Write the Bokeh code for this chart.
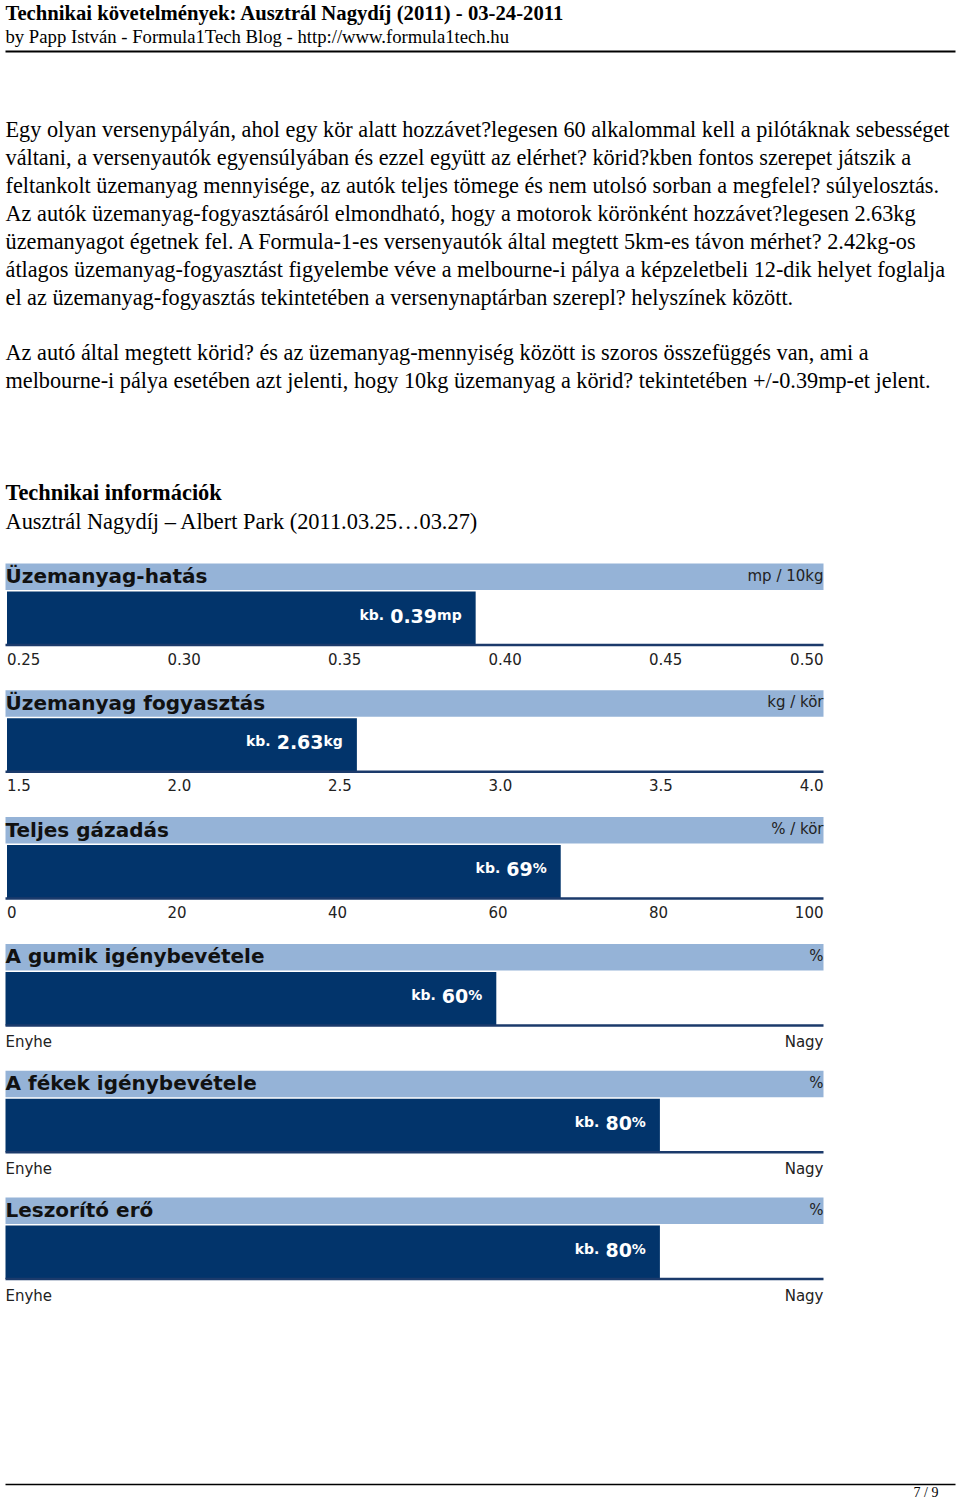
from bokeh.plotting import figure
from bokeh.models import Range1d
from bokeh.core.properties import value
from bokeh.embed import file_html
from bokeh.resources import INLINE

# ---------------- data ----------------
doc_title = "Technikai követelmények: Ausztrál Nagydíj (2011) - 03-24-2011"
doc_byline = "by Papp István - Formula1Tech Blog - http://www.formula1tech.hu"
para1 = [
    "Egy olyan versenypályán, ahol egy kör alatt hozzávet?legesen 60 alkalommal kell a pilótáknak sebességet",
    "váltani, a versenyautók egyensúlyában és ezzel együtt az elérhet? körid?kben fontos szerepet játszik a",
    "feltankolt üzemanyag mennyisége, az autók teljes tömege és nem utolsó sorban a megfelel? súlyelosztás.",
    "Az autók üzemanyag-fogyasztásáról elmondható, hogy a motorok körönként hozzávet?legesen 2.63kg",
    "üzemanyagot égetnek fel. A Formula-1-es versenyautók által megtett 5km-es távon mérhet? 2.42kg-os",
    "átlagos üzemanyag-fogyasztást figyelembe véve a melbourne-i pálya a képzeletbeli 12-dik helyet foglalja",
    "el az üzemanyag-fogyasztás tekintetében a versenynaptárban szerepl? helyszínek között.",
]
para2 = [
    "Az autó által megtett körid? és az üzemanyag-mennyiség között is szoros összefüggés van, ami a",
    "melbourne-i pálya esetében azt jelenti, hogy 10kg üzemanyag a körid? tekintetében +/-0.39mp-et jelent.",
]
section_title = "Technikai információk"
section_sub = "Ausztrál Nagydíj – Albert Park (2011.03.25…03.27)"
page_label = "7 / 9"

gauge_titles = ["Üzemanyag-hatás", "Üzemanyag fogyasztás", "Teljes gázadás",
                "A gumik igénybevétele", "A fékek igénybevétele", "Leszorító erő"]
gauge_units = ["mp / 10kg", "kg / kör", "% / kör", "%", "%", "%"]
gauge_bar_values = [0.396, 2.59, 69, 60, 80, 80]
# values printed in the bars
gauge_value_text = ["0.39", "2.63", "69", "60", "80", "80"]
gauge_value_suffix = ["mp", "kg", "%", "%", "%", "%"]
gauge_min = [0.25, 1.5, 0, 0, 0, 0]
gauge_max = [0.50, 4.0, 100, 100, 100, 100]
gauge_tick_values = [
    [0.25, 0.30, 0.35, 0.40, 0.45, 0.50],
    [1.5, 2.0, 2.5, 3.0, 3.5, 4.0],
    [0, 20, 40, 60, 80, 100],
    [0, 100], [0, 100], [0, 100],
]
gauge_tick_labels = [
    ["0.25", "0.30", "0.35", "0.40", "0.45", "0.50"],
    ["1.5", "2.0", "2.5", "3.0", "3.5", "4.0"],
    ["0", "20", "40", "60", "80", "100"],
    ["Enyhe", "Nagy"], ["Enyhe", "Nagy"], ["Enyhe", "Nagy"],
]

# ---------------- style / layout ----------------
W, H = 960, 1504
SERIF = value("Liberation Serif")
SANS = value("DejaVu Sans")
BAND = "#95b3d7"
DARK = "#02346b"
LINE = "#1b3a6b"
INK = "#111111"
LEFT, RIGHT = 5, 823          # gauge area, page px
TICK0, TICK_SPAN = 6.5, 802.5  # numeric scale: first tick px, px from min to max
G0, GSTEP = 563, 126.8         # top of first gauge band, gauge pitch

BOLD_W = {"0": .696, "1": .696, "2": .696, "3": .696, "4": .696, "5": .696,
          "6": .696, "7": .696, "8": .696, "9": .696, ".": .381, "k": .665,
          "b": .716, "m": 1.042, "p": .716, "g": .716, "%": 1.002, " ": .348}


def tw(s, size):
    return sum(BOLD_W.get(c, 0.7) for c in s) * size


p = figure(width=W, height=H, x_range=Range1d(0, W), y_range=Range1d(H, 0),
           output_backend="svg", toolbar_location=None, min_border=0,
           x_axis_location=None, y_axis_location=None)
p.grid.visible = False
p.outline_line_color = None
p.background_fill_color = "white"
p.border_fill_color = "white"

# ---------------- text page part ----------------
p.text(x=[5], y=[12], text=[doc_title], text_font=SERIF, text_font_style="bold",
       text_font_size="20.7px", text_color="black", text_baseline="middle")
p.text(x=[5], y=[36], text=[doc_byline], text_font=SERIF,
       text_font_size="18.7px", text_color="black", text_baseline="middle")
p.segment(x0=[5], x1=[955], y0=[51], y1=[51], line_color="black", line_width=2)

y1 = [129 + 28 * k for k in range(len(para1))]
p.text(x=[5] * len(para1), y=y1, text=para1, text_font=SERIF, text_font_size="22.25px",
       text_color="black", text_baseline="middle")
y2 = [352 + 28 * k for k in range(len(para2))]
p.text(x=[5] * len(para2), y=y2, text=para2, text_font=SERIF, text_font_size="22.25px",
       text_color="black", text_baseline="middle")
p.text(x=[5], y=[492], text=[section_title], text_font=SERIF, text_font_style="bold",
       text_font_size="22.4px", text_color="black", text_baseline="middle")
p.text(x=[5], y=[521], text=[section_sub], text_font=SERIF,
       text_font_size="22.4px", text_color="black", text_baseline="middle")

# ---------------- gauges ----------------
for i in range(len(gauge_titles)):
    lo, hi = gauge_min[i], gauge_max[i]
    numeric = len(gauge_tick_values[i]) > 2
    if numeric:
        x0, span = TICK0, TICK_SPAN
    else:
        x0, span = LEFT, RIGHT - LEFT
    upp = (hi - lo) / span
    rname = f"g{i}"
    p.extra_x_ranges[rname] = Range1d(lo - x0 * upp, lo + (W - x0) * upp)
    g = G0 + GSTEP * i

    p.quad(left=[LEFT], right=[RIGHT], top=[g], bottom=[g + 26.5], fill_color=BAND,
           line_color=None)
    p.quad(left=[lo], right=[gauge_bar_values[i]], top=[g + 28], bottom=[g + 81.5],
           fill_color=DARK, line_color=None, x_range_name=rname)
    p.segment(x0=[LEFT], x1=[RIGHT], y0=[g + 81.5], y1=[g + 81.5], line_color=LINE,
              line_width=2.5)

    p.text(x=[LEFT], y=[g + 24.5], text=[gauge_titles[i]], text_font=SANS,
           text_font_style="bold", text_font_size="20px", text_color=INK)
    p.text(x=[RIGHT], y=[g + 21], text=[gauge_units[i]], text_font=SANS,
           text_font_size="15px", text_color="#222222", text_align="right")

    suf = gauge_value_suffix[i]
    num = gauge_value_text[i]
    vx = [gauge_bar_values[i]]
    vy = [g + 59]
    off = -14
    p.text(x=vx, y=vy, text=[suf], text_font=SANS, text_font_style="bold",
           text_font_size="14px", text_color="white", text_align="right", x_offset=off,
           x_range_name=rname)
    off -= tw(suf, 14)
    p.text(x=vx, y=vy, text=[num], text_font=SANS, text_font_style="bold",
           text_font_size="19px", text_color="white", text_align="right", x_offset=off,
           x_range_name=rname)
    off -= tw(num, 19) + 6
    p.text(x=vx, y=vy, text=["kb."], text_font=SANS, text_font_style="bold",
           text_font_size="14px", text_color="white", text_align="right", x_offset=off,
           x_range_name=rname)

    tv = gauge_tick_values[i]
    tl = gauge_tick_labels[i]
    p.text(x=tv[:-1], y=[g + 89] * (len(tv) - 1), text=tl[:-1], text_font=SANS,
           text_font_size="15px", text_color="#222222", text_baseline="top",
           x_range_name=rname)
    p.text(x=[RIGHT], y=[g + 89], text=[tl[-1]], text_font=SANS, text_font_size="15px",
           text_color="#222222", text_baseline="top", text_align="right")

# ---------------- footer ----------------
p.segment(x0=[5], x1=[955], y0=[1484], y1=[1484], line_color="black", line_width=1.5)
p.text(x=[938], y=[1492], text=[page_label], text_font=SERIF, text_font_size="14px",
       text_color="black", text_align="right", text_baseline="middle")

open("out.html", "w").write(file_html(p, INLINE))
